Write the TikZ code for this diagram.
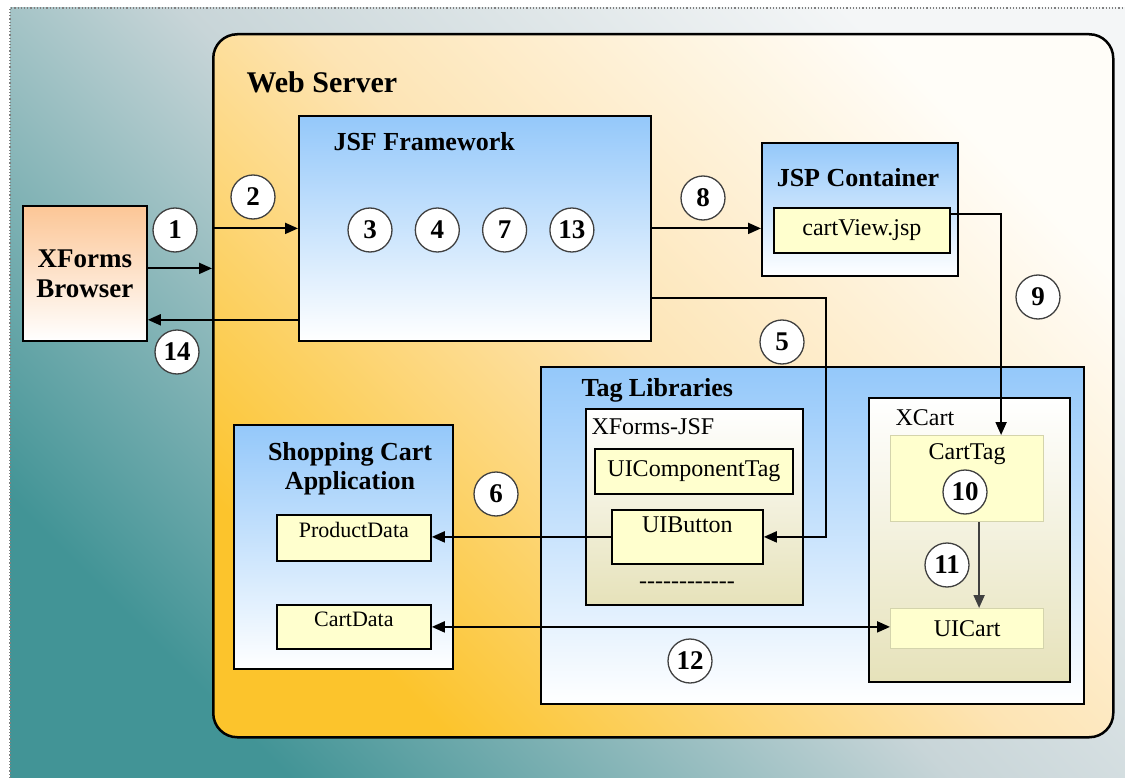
\documentclass[tikz,border=0pt]{standalone}
\usepackage{fontspec}
\setmainfont{Liberation Serif}
\usetikzlibrary{arrows.meta,positioning}
\definecolor{bgtop}{RGB}{244,246,247}
\definecolor{bgmid}{RGB}{200,213,216}
\definecolor{bgteal}{RGB}{66,148,150}
\definecolor{srvtop}{RGB}{255,253,248}
\definecolor{srvmid}{RGB}{253,228,180}
\definecolor{srvorange}{RGB}{252,196,44}
\definecolor{skyblue}{RGB}{148,200,250}
\definecolor{peach}{RGB}{252,198,150}
\definecolor{beige}{RGB}{230,226,186}
\definecolor{paleyellow}{RGB}{255,255,206}
\definecolor{cartline}{RGB}{212,212,172}

\begin{document}
\begin{tikzpicture}[x=1pt, y=-1pt, >={Triangle[length=13pt, width=11pt]}]
    \tikzstyle{box}=[draw, line width=1.8pt, anchor=north west, inner sep=0pt]
    \tikzstyle{bluebox}=[box, top color=skyblue, bottom color=white]
    \tikzstyle{tagbox}=[box, top color=white, bottom color=beige]
    \tikzstyle{item}=[box, fill=paleyellow, font=\fontsize{24}{26}\selectfont]
    \tikzstyle{itemtext}=[anchor=north, inner sep=0pt, yshift=-8pt]
    \tikzstyle{title}=[font=\bfseries\fontsize{26}{29}\selectfont, align=center]
    \tikzstyle{plain}=[font=\fontsize{24}{26}\selectfont]
    \tikzstyle{num}=[circle, draw=darkgray, line width=1.3pt, fill=white, minimum size=44pt, inner sep=0pt, font=\bfseries\fontsize{27}{27}\selectfont]
    \tikzstyle{flow}=[->, line width=2pt]

    % background
    \useasboundingbox (0,0) rectangle (1125,778);
    \shade [top color=bgtop, bottom color=bgteal, middle color=bgmid, shading angle=-45] (10,8) rectangle (1125,778);
    \draw [dotted, line width=1.2pt, gray] (10,778) -- (10,8) -- (1125,8);

    \node (server) [box, line width=2.5pt, rounded corners=24pt, minimum width=900pt, minimum height=703pt,
        top color=srvtop, bottom color=srvorange, middle color=srvmid, shading angle=-45] at (212,33) {};
    \node (webtitle) [font=\bfseries\fontsize{30}{32}\selectfont, anchor=west] at (243,82) {Web Server};

    \node (browser) [box, title, font=\bfseries\fontsize{27}{30}\selectfont, top color=peach, bottom color=white,
        minimum width=124pt, minimum height=135pt] at (22,205) {XForms\\Browser};

    \node (jsf) [bluebox, minimum width=352pt, minimum height=225pt] at (298,115) {};
    \node (jsftitle) [title, anchor=west] at (330,142) {JSF Framework};
    \node (n3) [num] at (370,230) {3};
    \node (n4) [num, right=22pt of n3] {4};
    \node (n7) [num, right=22pt of n4] {7};
    \node (n13) [num, right=22pt of n7] {13};

    \node (jsp) [bluebox, minimum width=196pt, minimum height=133pt] at (761,142) {};
    \node (jsptitle) [title] at (858,178) {JSP Container};
    \node (cartview) [item, minimum width=176pt, minimum height=45pt] at (773,207) {cartView.jsp};

    \node (taglib) [bluebox, minimum width=543pt, minimum height=337pt] at (540,366) {};
    \node (tagtitle) [title, anchor=west] at (578,390) {Tag Libraries};
    \node (xformsjsf) [tagbox, minimum width=217pt, minimum height=196pt] at (585,408) {};
    \node (jsflabel) [plain, anchor=west] at (588,427) {XForms-JSF};
    \node (uicomponent) [item, minimum width=198pt, minimum height=45pt] at (594,448) {UIComponentTag};
    \node (uibutton) [item, minimum width=151pt, minimum height=54pt,
        label={[itemtext, font=\fontsize{24}{26}\selectfont]north:UIButton}] at (611,509) {};
    \node (more) [plain] at (687,585) {\mbox{-}\mbox{-}\mbox{-}\mbox{-}\mbox{-}\mbox{-}\mbox{-}\mbox{-}\mbox{-}\mbox{-}\mbox{-}\mbox{-}};

    \node (xcart) [tagbox, minimum width=201pt, minimum height=284pt] at (868,397) {};
    \node (xcartlabel) [plain, anchor=west] at (892,418) {XCart};
    \node (carttag) [item, draw=cartline, line width=1.2pt, minimum width=153pt, minimum height=86pt,
        label={[itemtext, font=\fontsize{24}{26}\selectfont]north:CartTag}] at (890,435) {};
    \node (uicart) [item, draw=cartline, line width=1.2pt, minimum width=153pt, minimum height=40pt] at (890,608) {UICart};

    \node (shop) [bluebox, minimum width=219pt, minimum height=244pt] at (233,424) {};
    \node (shoptitle) [title] at (350,469) {Shopping Cart\\Application};
    \node (productdata) [item, minimum width=154pt, minimum height=46pt,
        label={[itemtext, font=\fontsize{22}{24}\selectfont]north:ProductData}] at (276,514) {};
    \node (cartdata) [item, minimum width=154pt, minimum height=44pt,
        label={[itemtext, font=\fontsize{22}{24}\selectfont]north:CartData}] at (276,604) {};

    \coordinate (request) at ([yshift=5pt]browser.east);
    \coordinate (response) at ([yshift=22pt]jsf.south west);
    \draw [flow] (request) -- (request -| server.west);
    \draw [flow] (jsf.west -| server.west) -- (jsf.west);
    \draw [flow] (response) -- (response -| browser.east);
    \draw [flow] (jsf.east) -- (jsf.east -| jsp.west);
    \draw [flow] ([yshift=16pt]cartview.east) -| ([xshift=34pt]carttag.north);
    \draw [flow] ([yshift=-70pt]jsf.east) -- ++(174,0) |- (uibutton.east);
    \draw [flow] (uibutton.west) -- (uibutton.west -| productdata.east);
    \draw [flow, <->] (cartdata.east) -- (cartdata.east -| uicart.west);
    \draw [flow, darkgray] ([xshift=12pt]carttag.south) -- ([xshift=12pt]uicart.north);

    \node (n1) [num] at (175,230) {1};
    \node (n2) [num] at (253,197) {2};
    \node (n14) [num] at (177,352) {14};
    \node (n8) [num] at (703,198) {8};
    \node (n9) [num] at (1038,297) {9};
    \node (n5) [num] at (782,342) {5};
    \node (n6) [num] at (496,494) {6};
    \node (n10) [num] at (965,492) {10};
    \node (n11) [num] at (947,565) {11};
    \node (n12) [num] at (690,661) {12};
\end{tikzpicture}
\end{document}
